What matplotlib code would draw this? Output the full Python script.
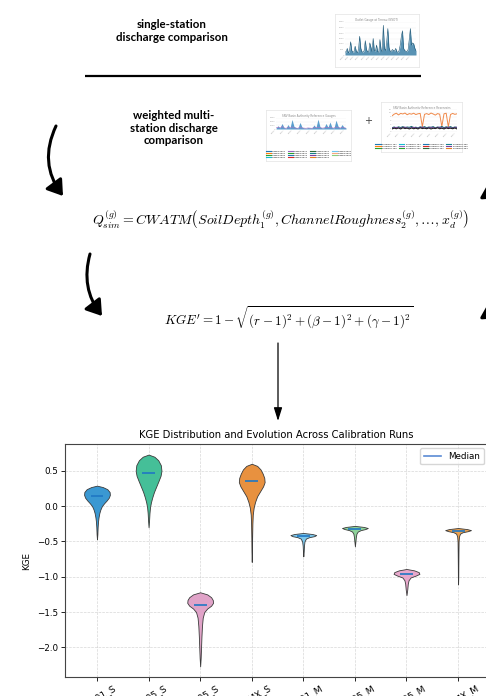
import matplotlib.pyplot as plt
from matplotlib.patches import FancyArrowPatch
from matplotlib.lines import Line2D

W, H = 486, 696

# ---- violin chart data (KGE per calibration run) ----
runs = ["GEN01_S", "GEN05_S", "GEN95_S", "GENMX_S",
        "GEN01_M", "GEN05_M", "GEN95_M", "GENMX_M"]
medians = [0.15, 0.47, -1.40, 0.35, -0.42, -0.32, -0.96, -0.35]

# density outline of each violin: KGE levels and relative width there
kge_levels = [
    [0.29, 0.27, 0.24, 0.20, 0.16, 0.12, 0.08, 0.04, 0.0, -0.05, -0.10, -0.16, -0.22, -0.30, -0.40, -0.47],
    [0.73, 0.70, 0.65, 0.58, 0.50, 0.43, 0.36, 0.28, 0.20, 0.12, 0.05, -0.02, -0.10, -0.20, -0.30],
    [-1.22, -1.25, -1.29, -1.33, -1.37, -1.41, -1.45, -1.50, -1.58, -1.70, -1.85, -2.00, -2.15, -2.27],
    [0.60, 0.57, 0.52, 0.46, 0.40, 0.34, 0.28, 0.21, 0.14, 0.06, -0.02, -0.12, -0.25, -0.45, -0.65, -0.79],
    [-0.38, -0.395, -0.41, -0.425, -0.44, -0.46, -0.50, -0.56, -0.64, -0.71],
    [-0.28, -0.295, -0.31, -0.325, -0.34, -0.36, -0.39, -0.44, -0.50, -0.57],
    [-0.89, -0.91, -0.935, -0.96, -0.985, -1.01, -1.05, -1.10, -1.18, -1.26],
    [-0.31, -0.325, -0.34, -0.355, -0.37, -0.39, -0.43, -0.50, -0.65, -0.85, -1.00, -1.11],
]
kge_density = [
    [0.0, 0.45, 0.80, 0.98, 1.0, 0.92, 0.75, 0.55, 0.38, 0.26, 0.18, 0.12, 0.08, 0.05, 0.03, 0.0],
    [0.0, 0.45, 0.75, 0.95, 1.0, 0.93, 0.78, 0.60, 0.42, 0.28, 0.18, 0.11, 0.07, 0.04, 0.0],
    [0.0, 0.55, 0.85, 0.98, 1.0, 0.85, 0.55, 0.32, 0.20, 0.14, 0.10, 0.07, 0.04, 0.0],
    [0.0, 0.42, 0.68, 0.85, 0.97, 1.0, 0.88, 0.65, 0.42, 0.26, 0.15, 0.08, 0.05, 0.03, 0.02, 0.0],
    [0.0, 0.70, 1.0, 0.85, 0.45, 0.20, 0.09, 0.05, 0.03, 0.0],
    [0.0, 0.70, 1.0, 0.80, 0.45, 0.22, 0.12, 0.07, 0.04, 0.0],
    [0.0, 0.60, 0.95, 1.0, 0.70, 0.32, 0.16, 0.10, 0.06, 0.0],
    [0.0, 0.70, 1.0, 0.75, 0.35, 0.15, 0.07, 0.04, 0.03, 0.02, 0.015, 0.0],
]
violin_colors = ["#3a98d2", "#45bf98", "#e0a3c8", "#e8913f",
                 "#7cc7ec", "#8ed39a", "#e8a8cc", "#eca24f"]

# ---- thumbnail data ----
outlet_flow = [300, 250, 600, 200, 350, 1200, 400, 250, 300, 800, 350, 200, 500, 1700,
               600, 300, 250, 400, 1300, 500, 300, 250, 1100, 700, 300, 1500, 400, 350,
               900, 300, 250, 1400, 500, 300, 2700, 600, 400, 1200, 2400, 700, 350, 300,
               500, 400, 350, 600, 300, 250, 400, 900, 1700, 2200, 600, 400, 350, 300,
               500, 1400, 2400, 900, 1100, 1000, 600, 400]
outlet_dates = ["2010", "2011", "2012", "2013", "2014", "2015", "2016", "2017",
                "2018", "2019", "2020", "2021", "2022", "2023"]

gauge_main = [200, 900, 300, 1500, 400, 250, 1200, 300, 2600, 700, 400, 300, 1800, 500,
              300, 250, 400, 350, 300, 1100, 400, 2700, 600, 300, 350, 1500, 500, 1900,
              400, 300, 2400, 800, 300, 1200, 500, 300]
gauge_side = [300, 500, 250, 700, 300, 200, 400, 250, 600, 300, 250, 200, 500, 300,
              250, 200, 300, 250, 200, 400, 300, 500, 350, 250, 300, 450, 300, 500,
              300, 250, 600, 350, 250, 450, 300, 250]
gauge_names = ["Gauge 5001", "Gauge 5002", "Gauge 5003", "Gauge 5004", "Gauge 5011",
               "Gauge 5012", "Gauge 5013", "Gauge 5014", "Gauge 5021", "Gauge 5022",
               "Gauge 5023", "Gauge 5024", "Gauge 5031", "Gauge 5032", "Gauge 5033"]
gauge_colors = ["#1f77b4", "#ff7f0e", "#2ca02c", "#17becf", "#9467bd", "#2ca02c",
                "#1f77b4", "#d62728", "#2f6b3a", "#17808c", "#7b3fa0", "#e67e22",
                "#6ec6f0", "#f5a97f", "#8ccf7e"]
gauge_dates = ["2016", "2017", "2018", "2019", "2020", "2021", "2022", "2023", "2024"]

res_storage = [8.4, 9.3, 9.8, 8.9, 9.7, 9.4, 9.9, 9.0, 9.6, 9.3, 9.8, 9.1, 9.5, 9.7,
               2.8, 9.2, 9.6, 9.1, 9.9, 9.4, 8.8, 9.6, 9.3, 2.9, 9.5, 9.8, 2.7, 9.1,
               9.7, 9.2, 9.5]
res_a = [2.2, 2.6, 2.1, 2.7, 2.3, 2.8, 2.2, 2.6, 2.4, 2.9, 2.2, 2.5, 2.1, 2.7, 2.3,
         2.8, 2.2, 2.6, 2.4, 2.8, 2.1, 2.6, 2.3, 2.9, 2.2, 2.7, 2.4, 2.8, 2.2, 2.6, 2.3]
res_b = [1.6, 2.0, 1.7, 2.1, 1.6, 2.2, 1.8, 2.0, 1.6, 2.1, 1.7, 2.0, 1.6, 2.2, 1.8,
         2.0, 1.7, 2.1, 1.6, 2.0, 1.8, 2.2, 1.7, 2.0, 1.6, 2.1, 1.8, 2.0, 1.7, 2.1, 1.6]
res_c = [2.0, 2.3, 2.5, 2.2, 2.0, 2.4, 2.6, 2.1, 2.0, 2.3, 2.5, 2.2, 2.0, 2.4, 2.6,
         2.1, 2.0, 2.3, 2.5, 2.2, 2.0, 2.4, 2.6, 2.1, 2.0, 2.3, 2.5, 2.2, 2.0, 2.4, 2.6]
res_names = ["Reservoir %d" % n for n in (101, 102, 103, 104, 201, 202, 203, 204, 301, 302, 303, 304)]
res_colors = ["#1f77b4", "#ff7f0e", "#2ca02c", "#17becf", "#9467bd", "#2ca02c",
              "#1f77b4", "#d62728", "#2f6b3a", "#17808c", "#7b3fa0", "#e67e22"]


def px_axes(fig, x0, y0, x1, y1):
    return fig.add_axes([x0 / W, 1 - y1 / H, (x1 - x0) / W, (y1 - y0) / H])


def card(fig, x0, y0, x1, y1, title):
    c = px_axes(fig, x0, y0, x1, y1)
    c.set_xticks([])
    c.set_yticks([])
    for s in c.spines.values():
        s.set_color("#e3e3e3")
        s.set_linewidth(0.5)
    c.text(0.5, 0.93, title, transform=c.transAxes, ha="center", va="top",
           fontsize=2.0, color="#888888")
    return c


def thumb_axes(fig, x0, y0, x1, y1):
    a = px_axes(fig, x0, y0, x1, y1)
    for s in a.spines.values():
        s.set_visible(False)
    a.tick_params(length=0, labelsize=1.6, labelcolor="#aaaaaa", pad=0.5)
    a.grid(axis="y", color="#eeeeee", linewidth=0.3)
    a.set_axisbelow(True)
    return a


plt.rcParams["mathtext.fontset"] = "cm"
fig = plt.figure(figsize=(W / 100, H / 100), dpi=100)

# ---- diagram layer in pixel coordinates ----
ov = fig.add_axes([0, 0, 1, 1])
ov.set_xlim(0, W)
ov.set_ylim(H, 0)
ov.axis("off")

ov.text(172, 31, "single-station\ndischarge comparison", ha="center", va="center",
        fontsize=8.3, fontweight="bold", family="Lato", linespacing=1.15)
ov.plot([85, 421], [76, 76], color="black", lw=1.6, solid_capstyle="butt")
ov.text(174, 128, "weighted multi-\nstation discharge\ncomparison", ha="center",
        va="center", fontsize=8.3, fontweight="bold", family="Lato", linespacing=1.15)
ov.text(368, 121, "+", ha="center", va="center", fontsize=7, color="#444444")

ov.text(281, 220, r"$Q_{sim}^{(g)} = CWATM\left(SoilDepth_1^{(g)}, ChannelRoughness_2^{(g)}, \ldots, x_d^{(g)}\right)$",
        ha="center", va="center", fontsize=10)
ov.text(289, 318, r"$KGE' = 1 - \sqrt{(r-1)^2 + (\beta-1)^2 + (\gamma-1)^2}$",
        ha="center", va="center", fontsize=9.4)

curved = dict(arrowstyle="-|>,head_length=0.6,head_width=0.4", mutation_scale=15,
              color="black", lw=2.2, shrinkA=0, shrinkB=0)
ov.add_patch(FancyArrowPatch((56, 126), (63, 196), connectionstyle="arc3,rad=0.3", **curved))
ov.add_patch(FancyArrowPatch((90, 254), (102, 316), connectionstyle="arc3,rad=0.25", **curved))
ov.add_patch(FancyArrowPatch((494, 250), (489, 182), connectionstyle="arc3,rad=0", **curved))
ov.add_patch(FancyArrowPatch((494, 370), (489, 302), connectionstyle="arc3,rad=0", **curved))
ov.add_patch(FancyArrowPatch((278, 343), (278, 421),
                             arrowstyle="-|>,head_length=0.8,head_width=0.25",
                             mutation_scale=10, color="black", lw=0.9,
                             shrinkA=0, shrinkB=0))

# ---- thumbnail 1: outlet gauge ----
card(fig, 335, 14, 419, 67, "Outlet Gauge at Tereau (NSOT)")
t1 = thumb_axes(fig, 345, 22, 416, 55)
x1 = range(len(outlet_flow))
t1.fill_between(x1, outlet_flow, color="#2f78a2", alpha=0.8, lw=0)
t1.plot(x1, outlet_flow, color="#1a5575", lw=0.4)
t1.set_xlim(0, len(outlet_flow) - 1)
t1.set_ylim(0, 3000)
t1.set_yticks([0, 500, 1000, 1500, 2000, 2500, 3000])
t1.set_xticks([i * 4.5 for i in range(len(outlet_dates))])
t1.set_xticklabels(outlet_dates, rotation=45, ha="right")

# ---- thumbnail 2: reference gauges ----
c2 = card(fig, 266, 110, 351, 161, "SNV Basin Authority Reference Gauges")
t2 = thumb_axes(fig, 276, 118, 346, 129)
x2 = range(len(gauge_main))
t2.fill_between(x2, gauge_main, color="#3d8ec6", alpha=0.85, lw=0)
t2.plot(x2, gauge_side, color="#b070c0", lw=0.4)
t2.set_xlim(0, len(gauge_main) - 1)
t2.set_ylim(0, 3000)
t2.set_yticks([0, 1000, 2000, 3000])
t2.set_xticks([i * 4.3 for i in range(len(gauge_dates))])
t2.set_xticklabels(gauge_dates, rotation=45, ha="right")
c2.legend(handles=[Line2D([], [], color=c, lw=0.8) for c in gauge_colors],
          labels=gauge_names, ncol=4, loc="lower center", fontsize=1.5,
          frameon=False, handlelength=2.5, columnspacing=1.0, labelspacing=0.3,
          bbox_to_anchor=(0.5, 0.02))

# ---- thumbnail 3: reference reservoirs ----
c3 = card(fig, 381, 102, 462, 152, "SNV Basin Authority Reference Reservoirs")
t3 = thumb_axes(fig, 392, 109, 457, 132)
x3 = range(len(res_storage))
t3.plot(x3, res_storage, color="#f08a4b", lw=0.7)
t3.plot(x3, res_a, color="#1a6b74", lw=0.8)
t3.plot(x3, res_c, color="#7b3fa0", lw=0.6)
t3.plot(x3, res_b, color="#222222", lw=0.8)
t3.set_xlim(0, len(res_storage) - 1)
t3.set_ylim(0, 12)
t3.set_yticks([0, 2, 4, 6, 8, 10, 12])
t3.set_xticks([i * 3.7 for i in range(len(gauge_dates))])
t3.set_xticklabels(gauge_dates, rotation=45, ha="right")
c3.legend(handles=[Line2D([], [], color=c, lw=0.8) for c in res_colors],
          labels=res_names, ncol=4, loc="lower center", fontsize=1.5,
          frameon=False, handlelength=2.5, columnspacing=1.0, labelspacing=0.3,
          bbox_to_anchor=(0.5, 0.02))

# ---- violin plot ----
ax = px_axes(fig, 65, 444, 488, 677)
stats = []
for lv, dn, md in zip(kge_levels, kge_density, medians):
    stats.append(dict(coords=lv, vals=dn, mean=md, median=md, min=min(lv), max=max(lv)))
parts = ax.violin(stats, positions=range(len(runs)), widths=0.5,
                  showmeans=False, showextrema=False, showmedians=True)
for body, col in zip(parts["bodies"], violin_colors):
    body.set_facecolor(col)
    body.set_edgecolor("#3a3a3a")
    body.set_linewidth(0.6)
    body.set_alpha(1)
parts["cmedians"].set_color("#1f77c4")
parts["cmedians"].set_linewidth(1.2)

ax.set_xlim(-0.62, 7.58)
ax.set_ylim(-2.42, 0.88)
ax.set_xticks(range(len(runs)))
ax.set_xticklabels(runs, rotation=30, fontsize=6.6)
ax.tick_params(axis="y", labelsize=6.3)
ax.tick_params(length=3, width=0.6, pad=2)
ax.tick_params(axis="x", pad=1.5)
ax.set_ylabel("KGE", fontsize=6.3, labelpad=4)
ax.set_title("KGE Distribution and Evolution Across Calibration Runs", fontsize=7.2, pad=4)
ax.grid(True, linestyle="--", linewidth=0.5, alpha=0.5)
ax.set_axisbelow(True)
for s in ax.spines.values():
    s.set_color("#444444")
    s.set_linewidth(0.8)
ax.legend(handles=[Line2D([], [], color="#5b8bd4", lw=1.2)], labels=["Median"],
          loc="upper right", fontsize=6.3)

fig.savefig("out.png", dpi=100)
